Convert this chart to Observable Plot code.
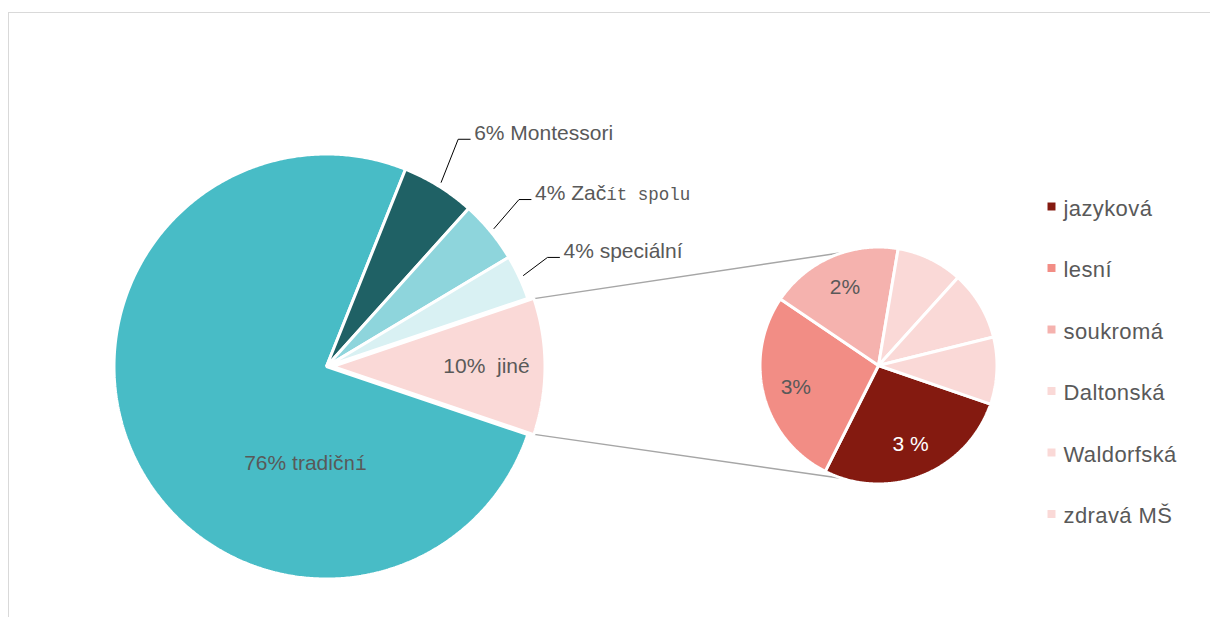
<!DOCTYPE html>
<html><head><meta charset="utf-8">
<script src="https://cdn.jsdelivr.net/npm/d3@7"></script>
<script src="https://cdn.jsdelivr.net/npm/@observablehq/plot@0.6"></script>
<style>
html,body{margin:0;padding:0;background:#fff;}
#wrap{position:relative;width:1210px;height:617px;overflow:hidden;}
#frame{position:absolute;left:8px;top:12px;width:1300px;height:700px;border-left:1.5px solid #d9d9d9;border-top:1.5px solid #d9d9d9;}
#chart{position:absolute;left:0;top:0;}
</style></head><body>
<div id="wrap"><div id="frame"></div><div id="chart"></div></div>
<script>
// ---- data: main pie (share of all schools, %) ----
const mainCategories = ["tradiční", "Montessori", "Začít spolu", "speciální", "jiné"];
const mainValues = [75.9, 5.6, 4.75, 3.4, 10.39];
const mainLabels = ["76% tradiční", "6% Montessori", "4% Začít spolu", "4% speciální", "10%  jiné"];
const mainColors = ["#48bcc6", "#1f6165", "#8ed5dc", "#d9f1f3", "#fad9d7"];

// ---- data: secondary pie (breakdown of "jiné", %) ----
const subCategories = ["jazyková", "lesní", "soukromá", "Daltonská", "Waldorfská", "zdravá MŠ"];
const subValues = [2.82, 2.81, 1.89, 0.94, 0.98, 0.95];
const subLabels = ["3 %", "3%", "2%", "", "", ""];
const subColors = ["#841a10", "#f28d85", "#f5b2ae", "#fad9d7", "#fad9d7", "#fad9d7"];

// ---- layout ----
const W = 1210, H = 617;
const mainCenter = [326, 366], mainR = 211, explode = 6;
const subCenter = [878, 365], subR = 117, subStart = 109;
const splitIndex = 4;
const rad = Math.PI / 180;
const pt = (c, r, a) => [c[0] + r * Math.sin(a * rad), c[1] - r * Math.cos(a * rad)];
const textColor = "#595959";
const sans = "'Liberation Sans', Arial, sans-serif";

function angles(values, start) {
  const total = d3.sum(values);
  let a = start;
  return values.map(v => { const a0 = a; a += v / total * 360; return [a0, a]; });
}
const mainStart = 90 + mainValues[splitIndex] / d3.sum(mainValues) * 180;
const mainAng = angles(mainValues, mainStart);
const subAng = angles(subValues, subStart);

function slice(name, color, c, r, a0, a1) {
  const pts = [{name, color, x: c[0], y: c[1]}];
  const n = Math.max(2, Math.ceil((a1 - a0) / 0.5));
  for (let k = 0; k <= n; k++) {
    const [x, y] = pt(c, r, a0 + (a1 - a0) * k / n);
    pts.push({name, color, x, y});
  }
  return pts;
}
const mainCenters = mainAng.map(([a0, a1], i) =>
  i === splitIndex ? pt(mainCenter, explode, (a0 + a1) / 2) : mainCenter);

const slicePts = [];
mainCategories.forEach((name, i) =>
  slicePts.push(...slice("m" + i, mainColors[i], mainCenters[i], mainR + 1.5, mainAng[i][0], mainAng[i][1])));
subCategories.forEach((name, i) =>
  slicePts.push(...slice("s" + i, subColors[i], subCenter, subR + 1.5, subAng[i][0], subAng[i][1])));

// connector tangent lines from split slice to secondary pie
function tangent(P, C, r, upper) {
  const dx = C[0] - P[0], dy = C[1] - P[1];
  const d = Math.hypot(dx, dy), phi = Math.atan2(dy, dx), al = Math.asin(r / d);
  const L = Math.sqrt(d * d - r * r), t = upper ? phi - al : phi + al;
  return [P[0] + L * Math.cos(t), P[1] + L * Math.sin(t)];
}
const [ja0, ja1] = mainAng[splitIndex];
const P1 = pt(mainCenters[splitIndex], mainR, ja0), P2 = pt(mainCenters[splitIndex], mainR, ja1);
const T1 = tangent(P1, subCenter, subR, true), T2 = tangent(P2, subCenter, subR, false);
const connectors = [{x1: P1[0], y1: P1[1], x2: T1[0], y2: T1[1]}, {x1: P2[0], y1: P2[1], x2: T2[0], y2: T2[1]}];

// label placement (outside labels with leader lines, inside labels on mid-angle)
const outsideElbow = {1: [17, -43], 2: [25, -29], 3: [24, -18]};
const insideOverride = {0: [-21, 97]};
const leaderPts = [], outsideText = [], insideText = [];
mainCategories.forEach((name, i) => {
  const mid = (mainAng[i][0] + mainAng[i][1]) / 2;
  if (outsideElbow[i]) {
    const s = pt(mainCenter, mainR + 6, mid);
    const e = [s[0] + outsideElbow[i][0], s[1] + outsideElbow[i][1]];
    const f = [e[0] + 12, e[1]];
    [s, e, f].forEach(p => leaderPts.push({name, x: p[0], y: p[1]}));
    outsideText.push({label: mainLabels[i], x: f[0] + 4, y: f[1] - 6});
  } else if (insideOverride[i]) {
    insideText.push({label: mainLabels[i], x: mainCenter[0] + insideOverride[i][0], y: mainCenter[1] + insideOverride[i][1], color: textColor});
  } else {
    const p = pt(mainCenters[i], mainR * 0.73, mid);
    insideText.push({label: mainLabels[i], x: p[0], y: p[1], color: textColor});
  }
});
subCategories.forEach((name, i) => {
  if (!subLabels[i]) return;
  const p = pt(subCenter, subR * 0.73, (subAng[i][0] + subAng[i][1]) / 2);
  insideText.push({label: subLabels[i], x: p[0], y: p[1], color: i === 0 ? "#ffffff" : textColor});
});

// legend rows
const legendX = 1051, legendY0 = 206, legendStep = 61.5;
const legendRows = subCategories.map((name, i) => ({name, color: subColors[i], x: legendX, y: legendY0 + i * legendStep}));

const svg = Plot.plot({
  width: W, height: H, margin: 0,
  x: {domain: [0, W], range: [0, W], axis: null},
  y: {domain: [0, H], range: [0, H], axis: null},
  color: {type: "identity"},
  style: {background: "transparent", fontFamily: sans},
  marks: [
    Plot.link(connectors, {x1: "x1", y1: "y1", x2: "x2", y2: "y2", stroke: "#a6a6a6", strokeWidth: 1.5}),
    Plot.line(slicePts, {x: "x", y: "y", z: "name", fill: "color", stroke: "#ffffff", strokeWidth: 3, curve: "linear-closed", strokeLinejoin: "miter"}),
    Plot.line(leaderPts, {x: "x", y: "y", z: "name", stroke: "#000000", strokeWidth: 1}),
    Plot.text(outsideText, {x: "x", y: "y", text: "label", textAnchor: "start", fill: textColor, fontSize: 21}),
    Plot.text(insideText, {x: "x", y: "y", text: "label", textAnchor: "middle", fill: "color", fontSize: 21}),
    Plot.dot(legendRows, {x: "x", y: "y", symbol: "square", r: 4.5, fill: "color"}),
    Plot.text(legendRows, {x: d => d.x + 12, y: d => d.y + 2, text: "name", textAnchor: "start", fill: textColor, fontSize: 22, style: "letter-spacing:0.4px"})
  ]
});

// font fallback look of the original for some glyph runs
const monoParts = {"76% tradiční": ["ní", 19.5], "4% Začít spolu": ["ít spolu", 17.5]};
d3.select(svg).selectAll("text").each(function () {
  const t = this.textContent, m = monoParts[t];
  if (!m) return;
  const head = t.slice(0, t.length - m[0].length);
  this.textContent = "";
  d3.select(this).append("tspan").text(head);
  d3.select(this).append("tspan").attr("font-family", "'Liberation Mono', 'Courier New', monospace").attr("font-size", m[1]).text(m[0]);
});
d3.select(svg).selectAll("text").filter(function(){ return subCategories.includes(this.textContent); }).attr("letter-spacing", "0.4px");
document.getElementById("chart").append(svg);
</script>
</body></html>
